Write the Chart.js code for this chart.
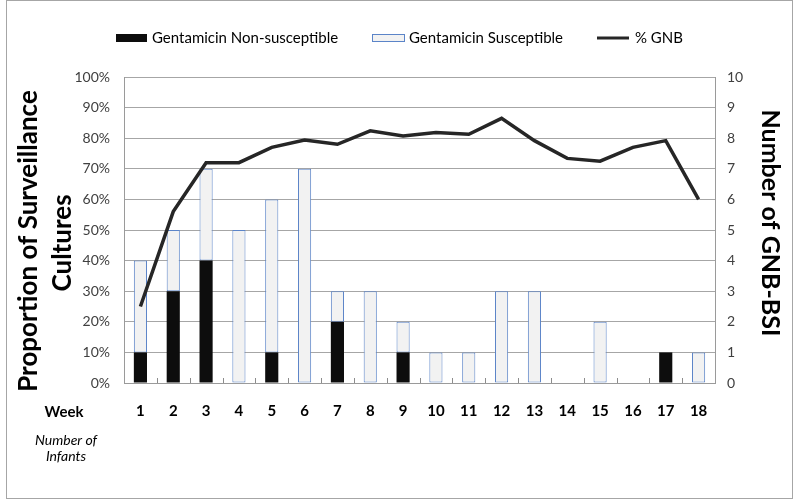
<!DOCTYPE html>
<html>
<head>
<meta charset="utf-8">
<script src="https://cdn.jsdelivr.net/npm/chart.js@4.4.1/dist/chart.umd.min.js"></script>
<style>
   html, body { margin: 0; padding: 0; background: #fff; }
   #wrap { position: relative; width: 800px; height: 504px; }
</style>
</head>
<body>
<div id="wrap"><canvas id="chart" width="800" height="504"></canvas></div>
<script>
const FONT = 'Lato, "Open Sans", sans-serif';

// weeks on x axis
const weeks = ['1', '2', '3', '4', '5', '6', '7', '8', '9', '10', '11', '12', '13', '14', '15', '16', '17', '18'];
// number of GNB-BSI (right axis)
const nonSusceptible = [1, 3, 4, 0, 1, 0, 2, 0, 1, 0, 0, 0, 0, 0, 0, 0, 1, 0];
const susceptible = [3, 2, 3, 5, 5, 7, 1, 3, 1, 1, 1, 3, 3, 0, 2, 0, 0, 1];
// % GNB of surveillance cultures (left axis)
const pctGNB = [25, 56, 72, 72, 77, 79.4, 78, 82.4, 80.7, 81.9, 81.3, 86.5, 79.2, 73.4, 72.5, 77, 79.2, 60];

const leftTitle = ['Proportion of Surveillance', 'Cultures'];
const rightTitle = 'Number of GNB-BSI';

// legend, axis titles, frame and the text under the axis
const decorations = {
   id: 'decorations',
   afterDraw(chart) {
      const ctx = chart.ctx;
      const x = chart.scales.x;
      const area = chart.chartArea;
      ctx.save();

      // frame
      ctx.strokeStyle = '#a6a6a6';
      ctx.lineWidth = 1;
      ctx.strokeRect(6.5, 0.5, 786, 498);

      // small tick marks between the weeks
      ctx.strokeStyle = '#8c8c8c';
      ctx.beginPath();
      for (let i = 0; i < weeks.length - 1; i++) {
         const px = Math.round((x.getPixelForValue(i) + x.getPixelForValue(i + 1)) / 2) + 0.5;
         ctx.moveTo(px, area.bottom);
         ctx.lineTo(px, area.bottom - 5);
      }
      ctx.stroke();

      // legend
      const ds = chart.data.datasets;
      ctx.textBaseline = 'middle';
      ctx.textAlign = 'left';
      ctx.font = '15px ' + FONT;
      ctx.fillStyle = ds[1].backgroundColor;
      ctx.fillRect(116, 34, 31, 8);
      ctx.fillStyle = '#000';
      ctx.fillText(ds[1].label, 152, 38);

      ctx.fillStyle = ds[2].backgroundColor;
      ctx.fillRect(372.5, 34.5, 32, 7);
      ctx.strokeStyle = ds[2].borderColor;
      ctx.strokeRect(372.5, 34.5, 32, 7);
      ctx.fillStyle = '#000';
      ctx.fillText(ds[2].label, 409, 38);

      ctx.strokeStyle = ds[0].borderColor;
      ctx.lineWidth = 3;
      ctx.beginPath();
      ctx.moveTo(597, 38);
      ctx.lineTo(629, 38);
      ctx.stroke();
      ctx.fillText(ds[0].label, 635, 38);

      // left axis title
      ctx.fillStyle = '#000';
      ctx.font = 'bold 26px ' + FONT;
      ctx.textAlign = 'center';
      ctx.save();
      ctx.translate(29, 241);
      ctx.rotate(-Math.PI / 2);
      ctx.fillText(leftTitle[0], 0, 0);
      ctx.restore();
      ctx.save();
      ctx.translate(63, 243);
      ctx.rotate(-Math.PI / 2);
      ctx.fillText(leftTitle[1], 0, 0);
      ctx.restore();

      // right axis title
      ctx.font = 'bold 25px ' + FONT;
      ctx.save();
      ctx.translate(770, 223);
      ctx.rotate(Math.PI / 2);
      ctx.fillText(rightTitle, 0, 0);
      ctx.restore();

      // row labels under the axis
      ctx.font = 'bold 15px ' + FONT;
      ctx.fillText('Week', 64, 412);
      ctx.font = 'italic 14px ' + FONT;
      ctx.fillText('Number of', 66, 440);
      ctx.fillText('Infants', 66, 456);

      ctx.restore();
   }
};

new Chart(document.getElementById('chart'), {
   type: 'bar',
   data: {
      labels: weeks,
      datasets: [{
         type: 'line',
         label: '% GNB',
         data: pctGNB,
         yAxisID: 'y',
         borderColor: '#262626',
         borderWidth: 3.5,
         pointRadius: 0,
         tension: 0,
         order: 0
      }, {
         label: 'Gentamicin Non-susceptible',
         data: nonSusceptible,
         yAxisID: 'y2',
         stack: 'bsi',
         backgroundColor: '#0d0d0d',
         borderWidth: 0,
         order: 1
      }, {
         label: 'Gentamicin Susceptible',
         data: susceptible,
         yAxisID: 'y2',
         stack: 'bsi',
         backgroundColor: '#f2f2f2',
         borderColor: '#5b84c8',
         borderWidth: 1,
         borderSkipped: false,
         order: 1
      }]
   },
   options: {
      responsive: false,
      animation: false,
      layout: { padding: { top: 77, left: 0, right: 0, bottom: 0 } },
      datasets: {
         bar: { barPercentage: 0.4, categoryPercentage: 1 }
      },
      plugins: {
         legend: { display: false },
         tooltip: { enabled: false }
      },
      scales: {
         x: {
            stacked: true,
            afterFit: s => { s.height = 121; },
            grid: { display: false, drawTicks: false },
            border: { color: '#9a9a9a' },
            ticks: {
               color: '#000',
               padding: 19,
               font: { family: FONT, size: 15, weight: 'bold' },
               maxRotation: 0
            }
         },
         y: {
            position: 'left',
            min: 0,
            max: 100,
            afterFit: s => { s.width = 124; },
            grid: { color: '#a6a6a6', drawTicks: false },
            border: { color: '#9a9a9a' },
            ticks: {
               stepSize: 10,
               padding: 14,
               color: '#404040',
               font: { family: FONT, size: 14 },
               callback: v => v + '%'
            }
         },
         y2: {
            position: 'right',
            stacked: true,
            min: 0,
            max: 10,
            afterFit: s => { s.width = 85; },
            grid: { drawOnChartArea: false, drawTicks: false },
            border: { color: '#9a9a9a' },
            ticks: {
               stepSize: 1,
               padding: 12,
               color: '#404040',
               font: { family: FONT, size: 14 }
            }
         }
      }
   },
   plugins: [decorations]
});
</script>
</body>
</html>
